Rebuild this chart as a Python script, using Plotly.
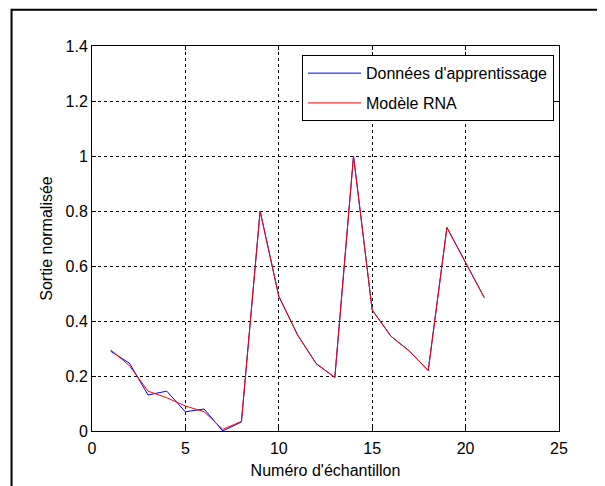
import plotly.graph_objects as go

x_vals = list(range(1, 22))
donnees = [0.29, 0.247, 0.131, 0.145, 0.070, 0.080, 0.0, 0.033, 0.80, 0.49, 0.35,
           0.245, 0.195, 1.0, 0.44, 0.345, 0.29, 0.22, 0.74, 0.61, 0.485]
modele = [0.295, 0.238, 0.145, 0.121, 0.091, 0.070, 0.006, 0.035, 0.80, 0.49, 0.35,
          0.245, 0.195, 1.0, 0.44, 0.345, 0.29, 0.22, 0.74, 0.61, 0.485]
x_ticks = [0, 5, 10, 15, 20, 25]
y_ticks = [0, 0.2, 0.4, 0.6, 0.8, 1, 1.2, 1.4]

FONT = "Liberation Sans, Arial, sans-serif"

fig = go.Figure()
fig.add_trace(go.Scatter(x=x_vals, y=donnees, mode="lines", name="Données d'apprentissage",
                         legendgroup="a", line=dict(color="#0000ff", width=1)))
fig.add_trace(go.Scatter(x=x_vals, y=modele, mode="lines", name="Modèle RNA",
                         legendgroup="b", line=dict(color="#ff0000", width=1)))

axis_common = dict(showline=True, linecolor="black", linewidth=1, mirror="ticks",
                   ticks="inside", ticklen=4, tickcolor="black",
                   showgrid=True, gridcolor="black", griddash="dot", gridwidth=1,
                   zeroline=False, tickfont=dict(size=16, color="black", family=FONT))

fig.update_xaxes(range=[0, 25], tickvals=x_ticks, ticktext=[str(v) for v in x_ticks],
                 ticklabelstandoff=3,
                 title=dict(text="Numéro d'échantillon", font=dict(size=16, color="black", family=FONT), standoff=8),
                 **axis_common)
fig.update_yaxes(range=[0, 1.4], tickvals=y_ticks, ticktext=["0", "0.2", "0.4", "0.6", "0.8", "1", "1.2", "1.4"],
                 title=dict(text="Sortie normalisée", font=dict(size=16, color="black", family=FONT), standoff=8),
                 **axis_common)

fig.update_layout(
    width=605, height=486,
    margin=dict(l=84, r=54, t=38, b=63),
    paper_bgcolor="white", plot_bgcolor="white",
    font=dict(family=FONT, color="black"),
    showlegend=True,
    legend=dict(x=0.4497, y=0.976, xanchor="left", yanchor="top",
                bgcolor="white", bordercolor="black", borderwidth=1,
                font=dict(size=16, color="black", family=FONT), itemwidth=53,
                tracegroupgap=6),
    shapes=[dict(type="rect", xref="paper", yref="paper",
                 x0=-0.1723, x1=1.14, y0=-0.18, y1=1.094,
                 line=dict(color="black", width=2), fillcolor="rgba(0,0,0,0)", layer="below")],
)

fig.write_html("out.html")
